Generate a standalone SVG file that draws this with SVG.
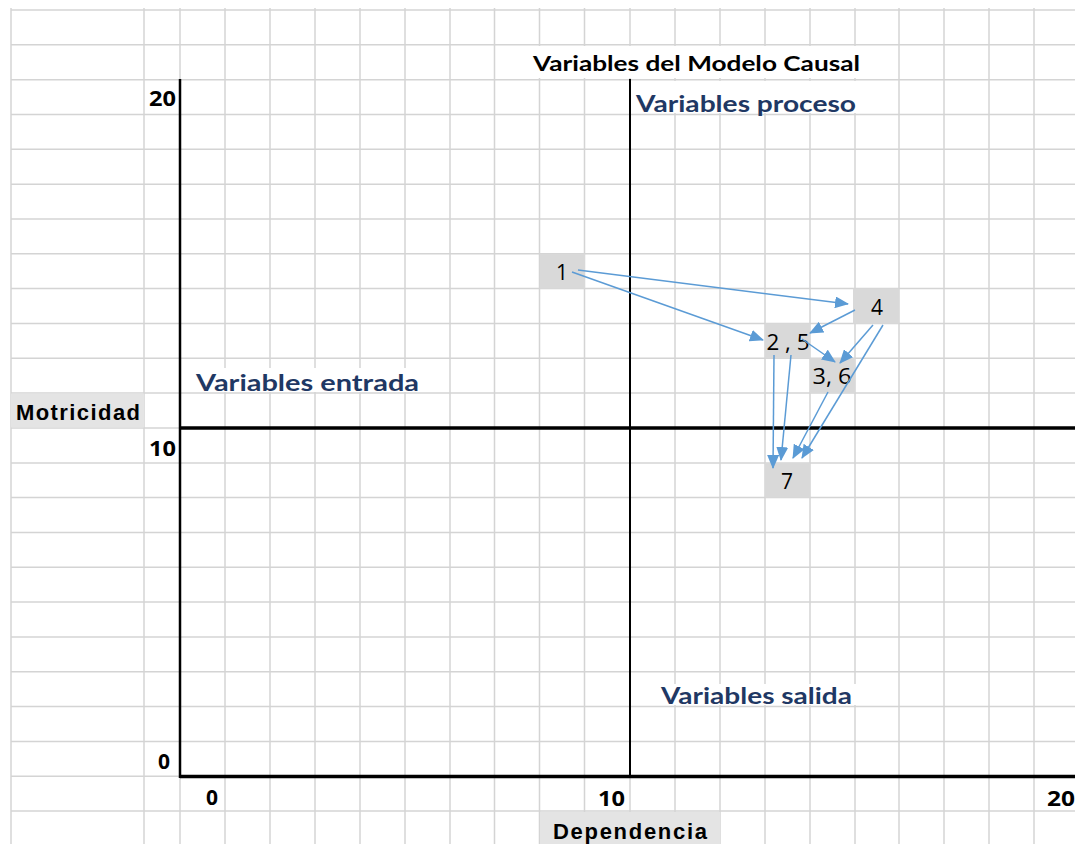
<svg xmlns="http://www.w3.org/2000/svg" width="1075" height="844" viewBox="0 0 1075 844">
<style>
.grid line{stroke:#d4d4d4;stroke-width:1.5}
.axis{stroke:#000;fill:none}
.hdr{font-family:Lato,"Open Sans","Liberation Sans",sans-serif;font-weight:bold;fill:#000}
.blue{font-family:Lato,"Open Sans","Liberation Sans",sans-serif;font-weight:bold;fill:#1f3864;font-size:23px}
.ax{font-family:"Liberation Sans",Arial,sans-serif;font-weight:bold;fill:#000}
.num{font-family:"Open Sans",Lato,"Liberation Sans",sans-serif;font-weight:bold;fill:#000;font-size:21px}
.node rect{fill:#d9d9d9}
.node text{font-family:"Open Sans",Lato,"Liberation Sans",sans-serif;font-size:21px;fill:#000;text-anchor:middle}
.conn line{stroke:#5b9bd5;stroke-width:1.5;marker-end:url(#ah)}
.cover{fill:#fff}
</style>
<defs>
<marker id="ah" markerUnits="userSpaceOnUse" markerWidth="14" markerHeight="12" refX="13" refY="6" orient="auto">
<path d="M0,0 L14,6 L0,12 z" fill="#5b9bd5"/>
</marker>
</defs>
<rect width="1075" height="844" fill="#fff"/>
<g class="grid">
<line x1="11" y1="10" x2="1075" y2="10"/>
<line x1="11" y1="44.8" x2="1075" y2="44.8"/>
<line x1="11" y1="79.7" x2="1075" y2="79.7"/>
<line x1="11" y1="114.5" x2="1075" y2="114.5"/>
<line x1="11" y1="149.3" x2="1075" y2="149.3"/>
<line x1="11" y1="184.2" x2="1075" y2="184.2"/>
<line x1="11" y1="219" x2="1075" y2="219"/>
<line x1="11" y1="253.8" x2="1075" y2="253.8"/>
<line x1="11" y1="288.6" x2="1075" y2="288.6"/>
<line x1="11" y1="323.5" x2="1075" y2="323.5"/>
<line x1="11" y1="358.3" x2="1075" y2="358.3"/>
<line x1="11" y1="393.1" x2="1075" y2="393.1"/>
<line x1="11" y1="463" x2="1075" y2="463"/>
<line x1="11" y1="497.6" x2="1075" y2="497.6"/>
<line x1="11" y1="532.5" x2="1075" y2="532.5"/>
<line x1="11" y1="567.3" x2="1075" y2="567.3"/>
<line x1="11" y1="602.1" x2="1075" y2="602.1"/>
<line x1="11" y1="637" x2="1075" y2="637"/>
<line x1="11" y1="671.8" x2="1075" y2="671.8"/>
<line x1="11" y1="706.6" x2="1075" y2="706.6"/>
<line x1="11" y1="741.4" x2="1075" y2="741.4"/>
<line x1="11" y1="428" x2="180" y2="428"/>
<line x1="11" y1="776.3" x2="180" y2="776.3"/>
<line x1="11" y1="811.1" x2="1075" y2="811.1"/>
<line x1="11" y1="8" x2="11" y2="844"/>
<line x1="144" y1="8" x2="144" y2="844"/>
<line x1="180" y1="8" x2="180" y2="844"/>
<line x1="225" y1="8" x2="225" y2="844"/>
<line x1="270" y1="8" x2="270" y2="844"/>
<line x1="315" y1="8" x2="315" y2="844"/>
<line x1="360" y1="8" x2="360" y2="844"/>
<line x1="405" y1="8" x2="405" y2="844"/>
<line x1="450" y1="8" x2="450" y2="844"/>
<line x1="494.5" y1="8" x2="494.5" y2="844"/>
<line x1="539.5" y1="8" x2="539.5" y2="844"/>
<line x1="584.5" y1="8" x2="584.5" y2="844"/>
<line x1="630" y1="8" x2="630" y2="844"/>
<line x1="675" y1="8" x2="675" y2="844"/>
<line x1="720" y1="8" x2="720" y2="844"/>
<line x1="765" y1="8" x2="765" y2="844"/>
<line x1="810" y1="8" x2="810" y2="844"/>
<line x1="855" y1="8" x2="855" y2="844"/>
<line x1="899" y1="8" x2="899" y2="844"/>
<line x1="944" y1="8" x2="944" y2="844"/>
<line x1="989" y1="8" x2="989" y2="844"/>
<line x1="1034" y1="8" x2="1034" y2="844"/>
</g>
<rect x="11" y="393.5" width="133" height="34" fill="#e4e4e4"/>
<rect x="540" y="812" width="180" height="32" fill="#e4e4e4"/>
<rect class="cover" x="528" y="46" width="337" height="32"/>
<rect class="cover" x="632" y="81" width="226" height="32"/>
<rect class="cover" x="190" y="368" width="232" height="24"/>
<rect class="cover" x="655" y="684" width="205" height="21"/>
<g id="axes">
<line class="axis" x1="180" y1="79" x2="180" y2="778" stroke-width="2.5"/>
<line class="axis" x1="630" y1="79" x2="630" y2="776" stroke-width="2"/>
<line class="axis" x1="180" y1="428" x2="1075" y2="428" stroke-width="3.5"/>
<line class="axis" x1="180" y1="776.5" x2="1075" y2="776.5" stroke-width="3.5"/>
</g>
<g id="labels">
<text class="hdr" x="533" y="71" font-size="21" textLength="327" lengthAdjust="spacingAndGlyphs">Variables del Modelo Causal</text>
<text class="blue" x="636" y="112" textLength="220" lengthAdjust="spacingAndGlyphs">Variables proceso</text>
<text class="blue" x="196" y="391" textLength="223" lengthAdjust="spacingAndGlyphs">Variables entrada</text>
<text class="blue" x="661" y="704" textLength="191" lengthAdjust="spacingAndGlyphs">Variables salida</text>
<text class="ax" x="16" y="420" font-size="22" textLength="124" lengthAdjust="spacing">Motricidad</text>
<text class="ax" x="553" y="839" font-size="22" textLength="154" lengthAdjust="spacing">Dependencia</text>
<text class="num" x="176" y="106" text-anchor="end" textLength="27" lengthAdjust="spacingAndGlyphs">20</text>
<text class="num" x="176" y="456" text-anchor="end" textLength="27" lengthAdjust="spacingAndGlyphs">10</text>
<text class="num" x="170" y="769" text-anchor="end">0</text>
<text class="num" x="206" y="805">0</text>
<text class="num" x="598" y="806" textLength="27" lengthAdjust="spacingAndGlyphs">10</text>
<text class="num" x="1047" y="806" textLength="28" lengthAdjust="spacingAndGlyphs">20</text>
</g>
<g id="node-1" class="node"><rect x="540" y="253.8" width="45" height="34.8"/><text x="562" y="280">1</text></g>
<g id="node-4" class="node"><rect x="853" y="288.6" width="46" height="34.9"/><text x="877" y="315">4</text></g>
<g id="node-2-5" class="node"><rect x="765" y="323.5" width="45" height="34.8"/><text x="788" y="350" textLength="43" lengthAdjust="spacingAndGlyphs">2 , 5</text></g>
<g id="node-3-6" class="node"><rect x="810" y="358.3" width="45" height="34.8"/><text x="832" y="384" textLength="39" lengthAdjust="spacingAndGlyphs">3, 6</text></g>
<g id="node-7" class="node"><rect x="765" y="463" width="45" height="34.6"/><text x="787" y="489">7</text></g>
<g id="connectors" class="conn">
<line x1="578" y1="270" x2="848" y2="304"/>
<line x1="572" y1="272" x2="763" y2="340"/>
<line x1="855" y1="310" x2="810" y2="333"/>
<line x1="802" y1="339" x2="835" y2="362"/>
<line x1="873" y1="325" x2="840" y2="363"/>
<line x1="774" y1="355" x2="773" y2="468"/>
<line x1="791" y1="355" x2="781" y2="460"/>
<line x1="828" y1="392" x2="793" y2="458"/>
<line x1="883" y1="325" x2="802" y2="458"/>
</g>
</svg>
